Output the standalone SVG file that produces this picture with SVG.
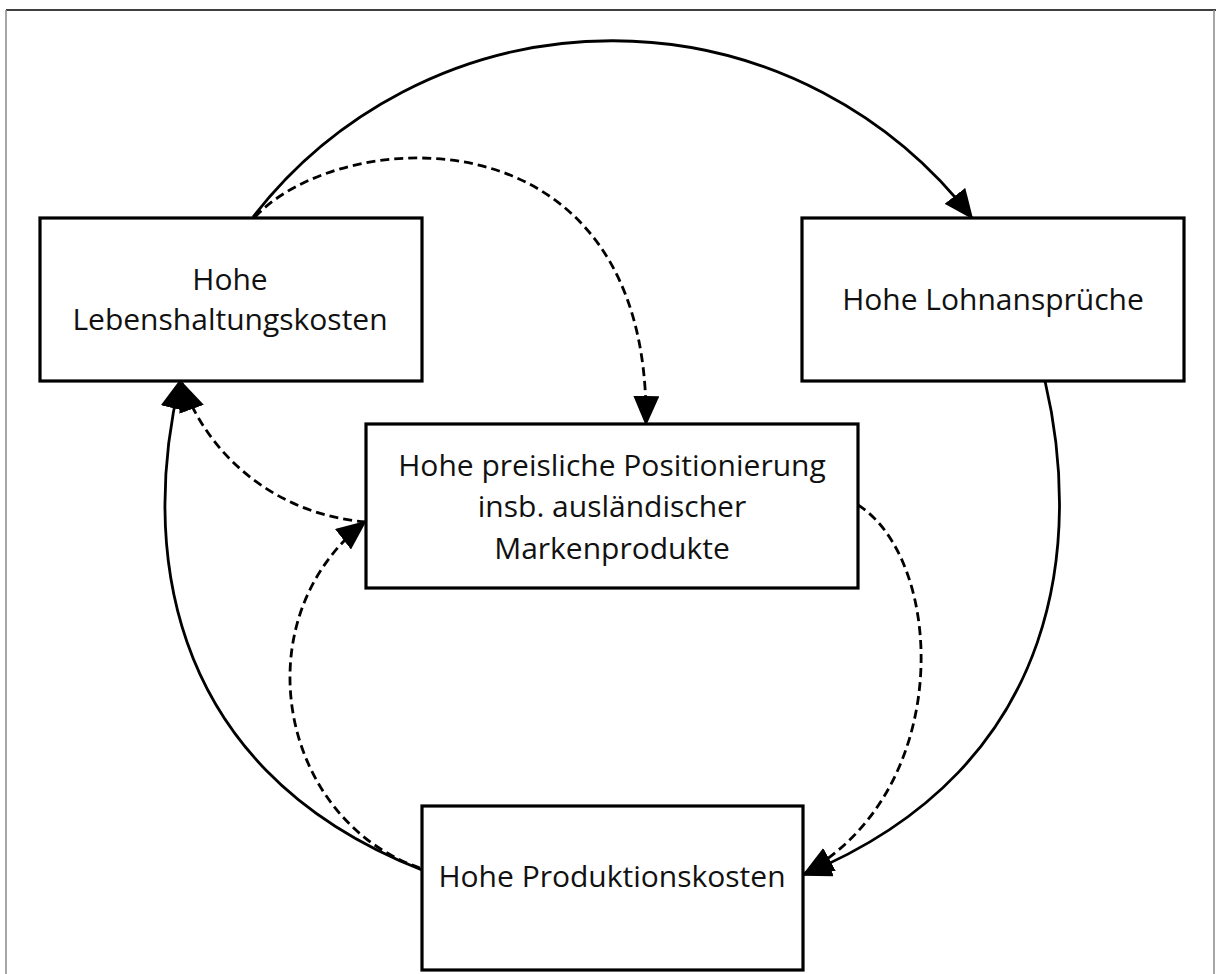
<svg xmlns="http://www.w3.org/2000/svg" width="1216" height="974" viewBox="0 0 1216 974">
<defs>
<marker id="ah" markerUnits="userSpaceOnUse" markerWidth="30" markerHeight="26" viewBox="0 0 30 26" refX="28" refY="13" orient="auto">
<path d="M0,0 L30,13 L0,26 Z" fill="#000"/>
</marker>
<style>
.box{fill:#fff;stroke:#000;stroke-width:3.2}
.t{font-family:"Open Sans","Liberation Sans",sans-serif;font-size:30px;fill:#111;text-anchor:middle}
.s{fill:none;stroke:#000;stroke-width:2.8}
.d{fill:none;stroke:#000;stroke-width:2.8;stroke-dasharray:9 5}
.frame{stroke:#888;stroke-width:1.5;fill:none}
</style>
</defs>
<rect width="1216" height="974" fill="#fff"/>
<g id="frame">
<line x1="6" y1="10" x2="1216" y2="10" stroke="#000" stroke-width="1.5"/>
<line class="frame" x1="6" y1="10" x2="6" y2="974"/>
<line class="frame" x1="1214" y1="10" x2="1214" y2="974"/>
</g>
<g id="connectors">
<path class="s" d="M253,217 A454,454 0 0 1 972,218" marker-end="url(#ah)"/>
<path class="s" d="M1045,381 C1080,530 1070,765 803,875" marker-end="url(#ah)"/>
<path class="s" d="M422,870 C154,765 144,530 180,381" marker-end="url(#ah)"/>
<path class="d" d="M255,217 C340,125 650,105 646,424" marker-end="url(#ah)"/>
<path class="d" d="M366,522 C280,515 210,460 182,383" marker-end="url(#ah)"/>
<path class="d" d="M420,868 C280,820 240,620 365,522" marker-end="url(#ah)"/>
<path class="d" d="M858,505 C945,560 955,790 805,873" marker-end="url(#ah)"/>
</g>
<g id="n1">
<rect class="box" x="40" y="218" width="382" height="163"/>
<text class="t" x="230" y="290">Hohe</text>
<text class="t" x="230" y="330">Lebenshaltungskosten</text>
</g>
<g id="n2">
<rect class="box" x="802" y="218" width="382" height="163"/>
<text class="t" x="993" y="310">Hohe Lohnansprüche</text>
</g>
<g id="n3">
<rect class="box" x="366" y="424" width="492" height="164"/>
<text class="t" x="612" y="476">Hohe preisliche Positionierung</text>
<text class="t" x="612" y="517">insb. ausländischer</text>
<text class="t" x="612" y="559">Markenprodukte</text>
</g>
<g id="n4">
<rect class="box" x="422" y="806" width="381" height="164"/>
<text class="t" x="612" y="887">Hohe Produktionskosten</text>
</g>
</svg>
